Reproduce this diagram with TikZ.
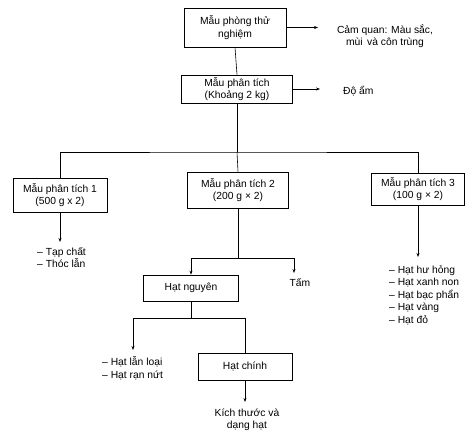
\documentclass[tikz,border=0pt]{standalone}
\usepackage{fontspec}
\setmainfont{Liberation Sans}
\usetikzlibrary{arrows.meta}
\begin{document}
\begin{tikzpicture}[x=1pt,y=-1pt,
  every node/.style={font=\fontsize{10.3}{12.5}\selectfont},
  box/.style={draw,line width=0.7pt,rectangle,align=center,inner sep=0pt},
  lbl/.style={align=center,inner sep=0pt},
  lst/.style={align=left,inner sep=0pt},
  conn/.style={line width=0.6pt},
  arr/.style={line width=0.6pt,-{Stealth[length=4pt,width=3pt]}}]
\useasboundingbox (0,0) rectangle (468,435);
% boxes
\node[box,minimum width=102pt,minimum height=39pt] (n1) at (235,27.5) {Mẫu phòng thử\\nghiệm};
\node[box,minimum width=111pt,minimum height=28pt] (n2) at (237,89) {Mẫu phân tích\\(Khoảng 2 kg)};
\node[box,minimum width=94pt,minimum height=34pt] (a) at (60,195) {Mẫu phân tích 1\\(500 g x 2)};
\node[box,minimum width=101pt,minimum height=36pt] (b) at (238,190) {Mẫu phân tích 2\\(200 g × 2)};
\node[box,minimum width=93pt,minimum height=32pt] (c) at (418,189) {Mẫu phân tích 3\\(100 g × 2)};
\node[box,minimum width=95pt,minimum height=26pt] (hn) at (191,288) {Hạt nguyên};
\node[box,minimum width=94pt,minimum height=27pt] (hc) at (245,366.5) {Hạt chính};
% text labels
\node[lbl] (t1) at (385,36) {Cảm quan: Màu sắc,\\mùi\, và côn trùng};
\node[lbl,anchor=west] (t2) at (343,91) {Độ ẩm};
\node[lst,anchor=west] (ta) at (37,257.5) {– Tạp chất\\– Thóc lẫn};
\node[lst,anchor=west] (tc) at (389,295) {– Hạt hư hỏng\\– Hạt xanh non\\– Hạt bạc phẩn\\– Hạt vàng\\– Hạt đỏ};
\node[lbl] (tam) at (300,283) {Tấm};
\node[lst,anchor=west] (tl) at (102,368.5) {– Hạt lẫn loại\\– Hạt rạn nứt};
\node[lbl] (tk) at (247,420) {Kích thước và\\dạng hạt};
% coordinates
\coordinate (e1) at (318,27.5);
\coordinate (e2) at (320,89);
\coordinate (j1) at (237,152);
\coordinate (ea) at (60,242);
\coordinate (ec) at (418,257);
\coordinate (j2) at (238,258);
\coordinate (etam) at (294,273);
\coordinate (j3) at (191,318);
\coordinate (el) at (133,350);
\coordinate (ek) at (245,402);
% connectors
\draw[arr] (n1.east) -- (e1);
\draw[arr] (n2.east) -- (e2);
\draw[conn] (n1.south) -- (n2.north);
\draw[conn] (n2.south) -- (j1);
\draw[conn] (a.north) |- (j1) -| (c.north);
\draw[conn] (j1) -- (b.north);
\draw[arr] (a.south) -- (ea);
\draw[arr] (c.south) -- (ec);
\draw[conn] (b.south) -- (j2);
\draw[arr] (j2) -| (hn.north);
\draw[arr] (j2) -| (etam);
\draw[conn] (hn.south) -- (j3);
\draw[arr] (j3) -| (el);
\draw[conn] (j3) -| (hc.north);
\draw[arr] (hc.south) -- (ek);
\end{tikzpicture}
\end{document}
